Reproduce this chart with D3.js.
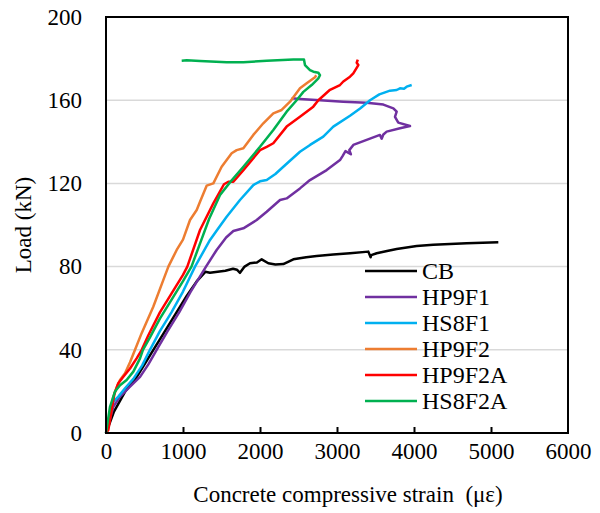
<!DOCTYPE html>
<html>
<head>
<meta charset="utf-8">
<script src="https://cdn.jsdelivr.net/npm/d3@7"></script>
<style>
  body { margin: 0; background: #fff; }
</style>
</head>
<body>
<div id="chart"></div>
<script>
const xTicks = [0, 1000, 2000, 3000, 4000, 5000, 6000];
const yTicks = [0, 40, 80, 120, 160, 200];
const seriesNames = ['CB', 'HP9F1', 'HS8F1', 'HP9F2', 'HP9F2A', 'HS8F2A'];
const seriesColors = ['#000000', '#7030a0', '#00b0f0', '#ed7d31', '#ff0000', '#00b050'];

// [strain (με), load (kN)]
const cb = [[0,0],[100,10],[250,20],[400,27],[500,33],[615,40],[750,48],[900,57],[1050,66],[1180,73],[1290,77.5],[1350,77],[1450,77.5],[1550,78],[1650,79],[1700,78.5],[1740,77],[1800,80],[1870,81.6],[1960,82],[2022,83.5],[2108,81.6],[2200,81],[2303,81.2],[2433,83.5],[2600,84.5],[2736,85.1],[2950,85.8],[3169,86.4],[3407,87.2],[3437,84.5],[3445,85.5],[3515,86.4],[3650,87.5],[3775,88.5],[4035,89.9],[4250,90.5],[4468,90.9],[4684,91.2],[5095,91.7]];
const hp9f1 = [[0,0],[95,12.6],[182,17.5],[312,22.3],[442,27],[550,33],[658,40],[800,49],[950,58],[1100,68],[1200,74],[1299,80],[1437,88],[1560,94],[1654,97.1],[1784,98.4],[1957,102.4],[2087,106.4],[2260,112],[2346,112.8],[2519,117.6],[2649,121.6],[2866,126.4],[3039,131.2],[3070,133],[3110,135.5],[3180,134],[3160,136],[3212,138.5],[3385,140.9],[3558,143.3],[3580,141.5],[3602,143.5],[3645,144.9],[3818,146.5],[3948,147.6],[3796,149.2],[3753,152],[3775,154.5],[3732,156.1],[3602,157.9],[3385,158.8],[3082,159.3],[2779,160],[2519,160.6],[2411,160.9]];
const hs8f1 = [[0,0],[95,15],[160,17.5],[247,21.5],[355,26],[470,32.5],[571,40],[700,49],[850,58],[1000,68],[1156,80],[1351,92.8],[1450,98],[1567,104],[1740,112],[1913,119.2],[2000,121],[2087,121.6],[2200,124.5],[2303,128],[2519,135.2],[2650,138.5],[2822,142.5],[2952,147.3],[3169,152.5],[3300,156],[3429,160],[3550,162.8],[3688,164.6],[3775,164.9],[3818,165.7],[3870,165.5],[3905,166.5],[3970,167.3]];
const hp9f2 = [[0,0],[50,9],[95,17.5],[150,23],[182,25.5],[247,28.7],[312,34],[377,40],[463,48],[614,60.7],[745,73.6],[810,80],[918,88],[1000,93],[1091,102.4],[1178,107.2],[1221,111.2],[1307,118.9],[1394,120],[1502,128],[1632,134.5],[1697,136],[1784,136.9],[1913,143.3],[2043,148.9],[2173,153.7],[2281,155.3],[2390,159.3],[2519,165.7],[2606,168.1],[2714,171],[2730,172]];
const hp9f2a = [[0,0],[30,1.4],[74,11],[110,19],[160,23.9],[225,27],[312,31],[400,36],[464,40],[550,47],[700,58],[850,67],[1000,76],[1056,80],[1221,97.6],[1394,110.4],[1532,119.6],[1589,120.8],[1654,120.8],[1784,126.4],[2000,136],[2087,137.6],[2173,139.3],[2346,147.3],[2519,152],[2692,156.9],[2758,160],[2909,165],[3039,167.3],[3082,169],[3169,171.3],[3212,172.9],[3277,176.9],[3256,178],[3270,179.5]];
const hs8f2a = [[0,0],[52,12.6],[117,19.9],[182,23],[268,25.5],[355,29.5],[442,35.9],[480,40],[571,46],[700,55],[850,64],[1000,73],[1110,80],[1230,92],[1340,103],[1481,114.4],[1610,120.5],[1784,128],[2000,137.6],[2173,145.7],[2346,154.5],[2476,160],[2563,164],[2671,167.3],[2758,170.5],[2779,172],[2758,173.2],[2693,173.7],[2649,174.5],[2584,176.9],[2571,179.6],[2433,179.6],[2087,179],[1784,178.2],[1567,178.2],[1221,178.8],[1048,179.2],[983,179]];

const seriesData = [cb, hp9f1, hs8f1, hp9f2, hp9f2a, hs8f2a];

const width = 600, height = 513;
const margin = { top: 17, right: 32, bottom: 80, left: 106 };
const font = '"Liberation Serif", "Times New Roman", serif';

const svg = d3.select('#chart')
  .append('svg')
    .attr('width', width)
    .attr('height', height)
    .style('background', '#fff')
    .style('font-family', font);

const x = d3.scaleLinear()
  .domain([0, 6000])
  .range([margin.left, width - margin.right]);

const y = d3.scaleLinear()
  .domain([0, 200])
  .range([height - margin.bottom, margin.top]);

// gridlines
svg.append('g')
  .selectAll('line')
  .data(yTicks.slice(1, -1))
  .enter()
  .append('line')
    .attr('x1', x(0))
    .attr('x2', x(6000))
    .attr('y1', d => y(d))
    .attr('y2', d => y(d))
    .attr('stroke', '#d9d9d9')
    .attr('stroke-width', 1.5);

// series
const line = d3.line()
  .x(d => x(d[0]))
  .y(d => y(d[1]));

svg.append('g')
  .selectAll('path')
  .data(seriesData)
  .enter()
  .append('path')
    .attr('d', line)
    .attr('fill', 'none')
    .attr('stroke', (d, i) => seriesColors[i])
    .attr('stroke-width', 2.5)
    .attr('stroke-linejoin', 'round');

// frame
svg.append('rect')
  .attr('x', x(0))
  .attr('y', y(200))
  .attr('width', x(6000) - x(0))
  .attr('height', y(0) - y(200))
  .attr('fill', 'none')
  .attr('stroke', '#000')
  .attr('stroke-width', 2);

// x axis (inward ticks)
const xAxis = svg.append('g')
  .attr('transform', `translate(0,${y(0)})`)
  .call(d3.axisBottom(x).tickValues(xTicks).tickSizeInner(-6).tickSizeOuter(0).tickPadding(10).tickFormat(d3.format('d')));
xAxis.attr('font-family', null).attr('font-size', null);
xAxis.select('.domain').remove();
xAxis.selectAll('.tick line').attr('stroke', '#000').attr('stroke-width', 2)
  .filter(d => d === 0 || d === 6000).remove();
xAxis.selectAll('text').style('font-family', font).style('font-size', '23px').attr('fill', '#000');

// y axis
const yAxis = svg.append('g')
  .attr('transform', `translate(${x(0)},0)`)
  .call(d3.axisLeft(y).tickValues(yTicks).tickSize(0).tickPadding(24));
yAxis.attr('font-family', null).attr('font-size', null);
yAxis.select('.domain').remove();
yAxis.selectAll('text').style('font-family', font).style('font-size', '23px').attr('fill', '#000');

// axis titles
svg.append('text')
  .attr('x', 348)
  .attr('y', 502)
  .attr('text-anchor', 'middle')
  .style('font-family', font)
  .style('font-size', '23px')
  .style('white-space', 'pre')
  .text('Concrete compressive strain  (με)');

svg.append('text')
  .attr('transform', `translate(31,${(y(0) + y(200)) / 2}) rotate(-90)`)
  .attr('text-anchor', 'middle')
  .style('font-family', font)
  .style('font-size', '23px')
  .text('Load (kN)');

// legend
const legend = svg.append('g')
  .selectAll('g')
  .data(seriesNames)
  .enter()
  .append('g')
    .attr('transform', (d, i) => `translate(365,${271 + i * 26})`);

legend.append('line')
  .attr('x1', 0)
  .attr('x2', 52)
  .attr('stroke', (d, i) => seriesColors[i])
  .attr('stroke-width', 2.5);

legend.append('text')
  .attr('x', 57)
  .attr('y', 8)
  .style('font-family', font)
  .style('font-size', '24px')
  .text(d => d);
</script>
</body>
</html>
